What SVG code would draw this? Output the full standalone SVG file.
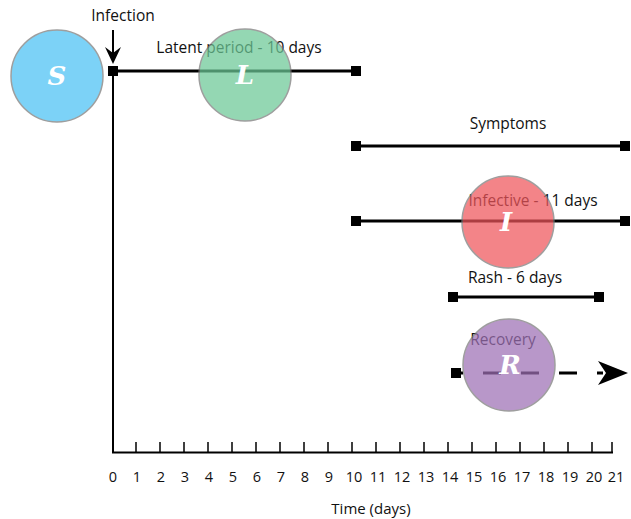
<svg xmlns="http://www.w3.org/2000/svg" width="631" height="519" viewBox="0 0 631 519">
<style>
.t{font-family:"Open Sans","Liberation Sans",sans-serif;font-size:15.5px;fill:#111;text-anchor:middle}
.ax{font-family:"Open Sans","Liberation Sans",sans-serif;font-size:14.5px;fill:#111;text-anchor:middle}
.bar{stroke:#000;stroke-width:3;fill:none}
.sq{fill:#000}
.c{stroke:#7a7a7a;stroke-width:1.5;opacity:0.72}
.lt{font-family:"DejaVu Serif","Liberation Serif",serif;font-style:italic;font-weight:bold;font-size:26px;fill:#fff;text-anchor:middle}
</style>
<g id="axes">
<line x1="113" y1="71" x2="113" y2="453" stroke="#000" stroke-width="2"/>
<line x1="112" y1="452.5" x2="613" y2="452.5" stroke="#000" stroke-width="2"/>
<path d="M136 442v10M160 442v10M184 442v10M208 442v10M232 442v10M256 442v10M280 442v10M304 442v10M328 442v10M352 442v10M376 442v10M400 442v10M424 442v10M448 442v10M472 442v10M496 442v10M520 442v10M544 442v10M568 442v10M592 442v10M612 442v10" stroke="#000" stroke-width="1.5"/>
<text class="ax" x="113" y="482">0</text><text class="ax" x="137" y="482">1</text><text class="ax" x="161" y="482">2</text><text class="ax" x="185" y="482">3</text><text class="ax" x="209" y="482">4</text><text class="ax" x="233" y="482">5</text><text class="ax" x="257" y="482">6</text><text class="ax" x="281" y="482">7</text><text class="ax" x="305" y="482">8</text><text class="ax" x="329" y="482">9</text><text class="ax" x="354" y="482">10</text><text class="ax" x="378" y="482">11</text><text class="ax" x="402" y="482">12</text><text class="ax" x="426" y="482">13</text><text class="ax" x="450" y="482">14</text><text class="ax" x="474" y="482">15</text><text class="ax" x="498" y="482">16</text><text class="ax" x="522" y="482">17</text><text class="ax" x="546" y="482">18</text><text class="ax" x="570" y="482">19</text><text class="ax" x="594" y="482">20</text><text class="ax" x="616" y="482">21</text>
<text class="ax" x="371" y="514" style="font-size:15px">Time (days)</text>
</g>
<g id="connectors">
<line x1="113" y1="30" x2="113" y2="54" stroke="#000" stroke-width="2"/>
<path d="M113 64 L105 47 L113 53 L121 47 Z" fill="#000"/>
<line class="bar" x1="113" y1="71" x2="356" y2="71"/>
<line class="bar" x1="356" y1="146" x2="625" y2="146"/>
<line class="bar" x1="356" y1="221" x2="625" y2="221"/>
<line class="bar" x1="453" y1="297" x2="599" y2="297"/>
<line class="bar" x1="456" y1="373" x2="603" y2="373" stroke-dasharray="18 20" stroke-dashoffset="11"/>
<path d="M628 373 L598 361 L606 373 L598 385 Z" fill="#000"/>
<rect class="sq" x="108" y="66" width="10" height="10"/>
<rect class="sq" x="351" y="66" width="10" height="10"/>
<rect class="sq" x="351" y="141" width="10" height="10"/>
<rect class="sq" x="620" y="141" width="10" height="10"/>
<rect class="sq" x="351" y="216" width="10" height="10"/>
<rect class="sq" x="620" y="216" width="10" height="10"/>
<rect class="sq" x="448" y="292" width="10" height="10"/>
<rect class="sq" x="594" y="292" width="10" height="10"/>
<rect class="sq" x="451" y="368" width="10" height="10"/>
</g>
<g id="labels">
<text class="t" x="123" y="21">Infection</text>
<text class="t" x="239" y="53">Latent period - 10 days</text>
<text class="t" x="508" y="129">Symptoms</text>
<text class="t" x="533" y="206">Infective - 11 days</text>
<text class="t" x="515" y="283">Rash - 6 days</text>
<text class="t" x="503" y="345">Recovery</text>
</g>
<g id="S"><circle class="c" cx="57" cy="76" r="46" fill="#4ac2f4"/><text class="lt" x="57" y="85">S</text></g>
<g id="L"><circle class="c" cx="245" cy="75" r="46" fill="#6cc997"/><text class="lt" x="245" y="84">L</text></g>
<g id="I"><circle class="c" cx="508" cy="222" r="46" fill="#ef555b"/><text class="lt" x="506" y="231">I</text></g>
<g id="R"><circle class="c" cx="509" cy="365" r="46" fill="#9e70b5"/><text class="lt" x="510" y="374">R</text></g>
</svg>
